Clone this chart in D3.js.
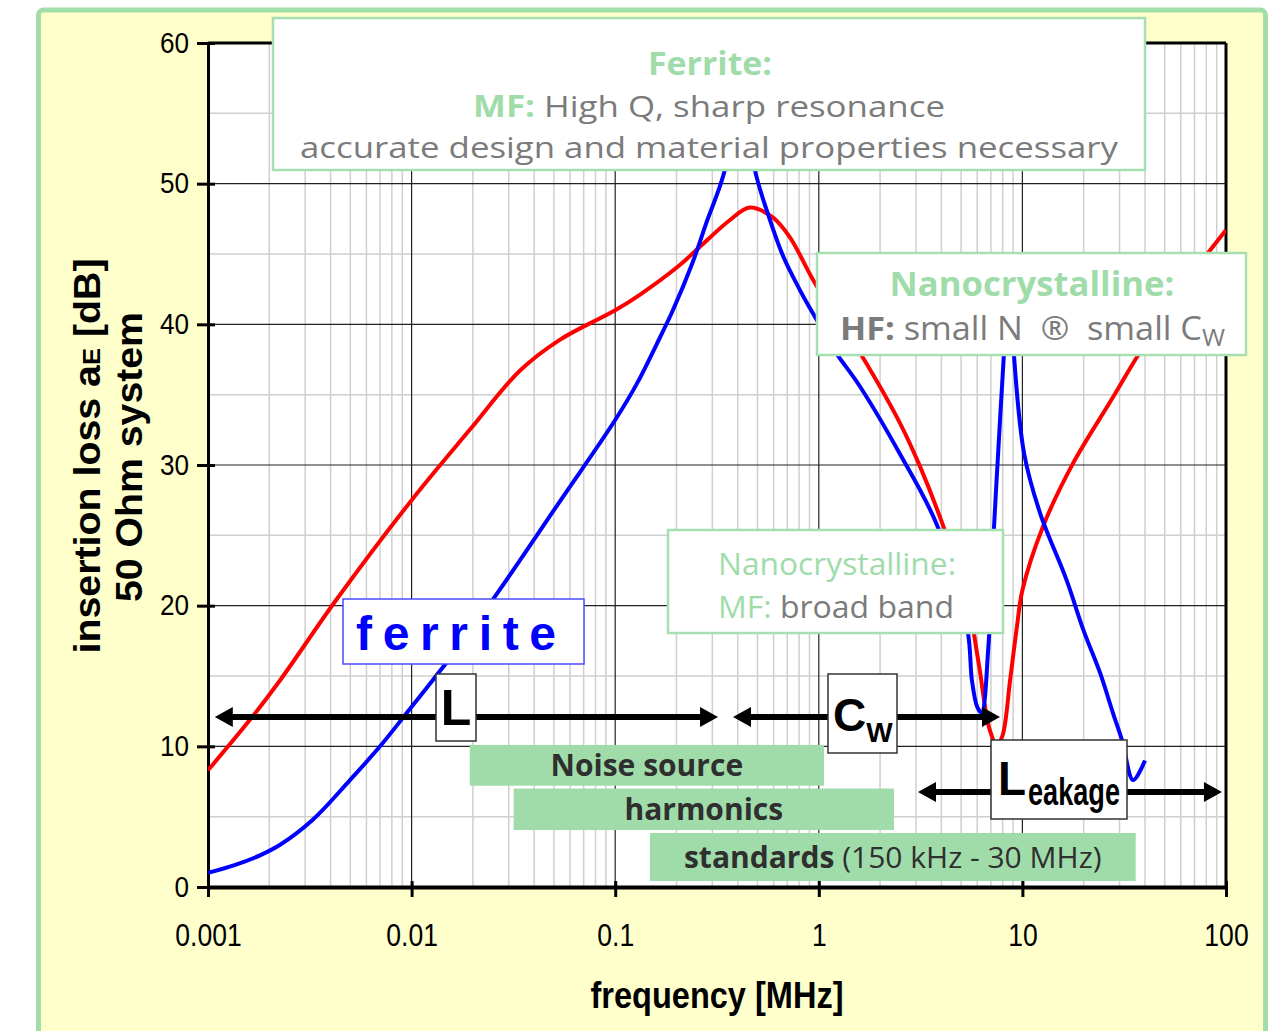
<!DOCTYPE html>
<html><head><meta charset="utf-8">
<script src="https://cdn.jsdelivr.net/npm/d3@7"></script>
<style>html,body{margin:0;padding:0;background:#fff;} svg{display:block;}</style>
</head><body>
<svg id="chart" width="1281" height="1031"></svg>
<script>
// ---------------- data ----------------
const frequencyTicks = [0.001, 0.01, 0.1, 1, 10, 100];
const frequencyTickLabels = ["0.001", "0.01", "0.1", "1", "10", "100"];
const lossTicks = [0, 10, 20, 30, 40, 50, 60];

// ferrite (blue) insertion loss [dB] vs frequency [MHz]
const ferriteFreq = [0.001, 0.00135, 0.0018, 0.00226, 0.00328, 0.00498, 0.007, 0.0095, 0.0127, 0.0173, 0.027, 0.0534, 0.1, 0.128, 0.16, 0.192, 0.24, 0.28, 0.346, 0.41, 0.485, 0.57, 0.67, 0.81, 0.96, 1.2, 1.59, 2.5, 3.84, 5.37, 5.65, 6.0, 6.3, 6.8, 7.2, 7.8, 8.1, 8.6, 9.1, 10.2, 12.2, 16.5, 19.9, 24.1, 27.8, 30.9, 35, 40];
const ferriteLoss = [1.0, 1.55, 2.25, 3.0, 4.8, 7.6, 10.0, 12.4, 14.7, 17.2, 21.1, 27.4, 33.2, 35.8, 38.6, 41.0, 44.4, 47.2, 51.0, 58, 51.0, 47.6, 44.8, 42.4, 40.5, 38.1, 35.6, 30.8, 25.6, 18.3, 14.7, 12.8, 12.4, 17, 24.7, 33.7, 37.7, 45, 37.7, 30.8, 26.6, 21.8, 18.3, 15.2, 12.4, 10.4, 7.6, 9.0];

// nanocrystalline (red)
const nanoFreq = [0.001, 0.00161, 0.00226, 0.00426, 0.01, 0.0193, 0.034, 0.0534, 0.1, 0.132, 0.207, 0.26, 0.365, 0.458, 0.594, 0.72, 0.96, 1.59, 2.5, 3.14, 4.1, 5.33, 6.1, 6.9, 7.5, 8.0, 8.7, 9.4, 10, 12.6, 17.7, 27.8, 36.6, 59.4, 100];
const nanoLoss = [8.3, 11.9, 14.7, 20.4, 27.5, 32.5, 36.7, 38.9, 41, 42.1, 44.2, 45.5, 47.4, 48.3, 47.6, 46.2, 42.9, 38, 33, 29.9, 25.6, 20.6, 15.9, 11.2, 10.1, 10.8, 14.7, 18.5, 21.1, 25.6, 30.1, 34.8, 37.7, 42.4, 46.7];

// frequency bands (green bars)
const bandNames = ["Noise source", "harmonics", "standards"];
const bandSuffix = ["", "", " (150 kHz - 30 MHz)"];
const bandFrom = [0.0193, 0.0317, 0.148];
const bandTo = [1.06, 2.34, 36];
const bandTop = [10.1, 7.0, 3.84];
const bandBottom = [7.2, 4.05, 0.43];

// double arrows (L, Cw, Lleakage)
const arrowFrom = [0.00108, 0.379, 3.07];
const arrowTo = [0.32, 7.76, 95.5];
const arrowLoss = [12.08, 12.08, 6.75];

// ---------------- layout ----------------
const svg = d3.select("#chart");
const X0 = 208, X1 = 1226, Y0 = 887, Y1 = 43;
const x = d3.scaleLog().domain([0.001, 100]).range([X0, X1]);
const y = d3.scaleLinear().domain([0, 60]).range([Y0, Y1]);

const GREEN = "#a0dcaa", BOXGREEN = "#a6e0b1", GRAY = "#7b7b7b";
const AX = "Liberation Sans, Arial, sans-serif";
const AN = "Open Sans, Noto Sans, sans-serif";

// outer frame
svg.append("rect").attr("x", 38.5).attr("y", 10).attr("width", 1227).attr("height", 1100)
  .attr("rx", 5).attr("fill", "#ffffcc").attr("stroke", "#a2dea9").attr("stroke-width", 5);

// plot background
svg.append("rect").attr("x", X0).attr("y", Y1).attr("width", X1 - X0).attr("height", Y0 - Y1).attr("fill", "#fff");

// grid
const minorF = [];
for (let d = 0.001; d < 100; d *= 10) for (let k = 2; k <= 9; k++) minorF.push(d * k);
const grid = svg.append("g");
grid.selectAll(".vmin").data(minorF).join("line")
  .attr("x1", d => x(d)).attr("x2", d => x(d)).attr("y1", Y1).attr("y2", Y0)
  .attr("stroke", "#cfcfcf").attr("stroke-width", 1.5);
grid.selectAll(".hmin").data(d3.range(5, 60, 10)).join("line")
  .attr("x1", X0).attr("x2", X1).attr("y1", d => y(d)).attr("y2", d => y(d))
  .attr("stroke", "#cfcfcf").attr("stroke-width", 1.5);
grid.selectAll(".vmaj").data(frequencyTicks.slice(1, -1)).join("line")
  .attr("x1", d => x(d)).attr("x2", d => x(d)).attr("y1", Y1).attr("y2", Y0)
  .attr("stroke", "#222").attr("stroke-width", 1.2);
grid.selectAll(".hmaj").data(lossTicks.slice(1, -1)).join("line")
  .attr("x1", X0).attr("x2", X1).attr("y1", d => y(d)).attr("y2", d => y(d))
  .attr("stroke", "#222").attr("stroke-width", 1.2);

// frame lines of plot
svg.append("line").attr("x1", X0).attr("x2", X1).attr("y1", Y1).attr("y2", Y1).attr("stroke", "#000").attr("stroke-width", 3);
svg.append("line").attr("x1", X1).attr("x2", X1).attr("y1", Y1).attr("y2", Y0).attr("stroke", "#000").attr("stroke-width", 3);

// axes
const yAxis = svg.append("g").attr("transform", `translate(${X0},0)`)
  .call(d3.axisLeft(y).tickValues(lossTicks).tickFormat(d3.format("d")).tickSize(11).tickPadding(8).tickSizeOuter(0));
yAxis.select(".domain").attr("stroke-width", 3);
yAxis.selectAll(".tick line").attr("x1", 7).attr("stroke-width", 3);
yAxis.selectAll(".tick text").attr("font-family", AX).attr("font-size", 29).attr("fill", "#000")
  .attr("transform", "scale(0.9,1)").attr("x", -21);

const xAxis = svg.append("g").attr("transform", `translate(0,${Y0})`)
  .call(d3.axisBottom(x).tickValues(frequencyTicks).tickFormat((d, i) => frequencyTickLabels[i]).tickSize(10).tickPadding(26).tickSizeOuter(0));
xAxis.select(".domain").attr("stroke-width", 4);
xAxis.selectAll(".tick line").attr("y1", -6).attr("stroke-width", 3);
xAxis.selectAll(".tick text").attr("font-family", AX).attr("font-size", 32).attr("fill", "#000")
  .attr("transform", "scale(0.83,1)");

// axis titles
svg.append("text").attr("x", 717).attr("y", 1008).attr("text-anchor", "middle")
  .attr("font-family", AX).attr("font-weight", "bold").attr("font-size", 36)
  .attr("textLength", 253).attr("lengthAdjust", "spacingAndGlyphs").text("frequency [MHz]");

const yt1 = svg.append("text").attr("transform", "translate(100,456) rotate(-90)").attr("text-anchor", "middle")
  .attr("font-family", AX).attr("font-weight", "bold").attr("font-size", 37)
  .attr("textLength", 395).attr("lengthAdjust", "spacingAndGlyphs");
yt1.append("tspan").text("insertion loss a");
yt1.append("tspan").attr("font-size", 24).text("E");
yt1.append("tspan").text(" [dB]");
svg.append("text").attr("transform", "translate(142,457) rotate(-90)").attr("text-anchor", "middle")
  .attr("font-family", AX).attr("font-weight", "bold").attr("font-size", 37)
  .attr("textLength", 290).attr("lengthAdjust", "spacingAndGlyphs").text("50 Ohm system");

// curves
svg.append("clipPath").attr("id", "plotclip").append("rect")
  .attr("x", X0).attr("y", Y1).attr("width", X1 - X0).attr("height", Y0 - Y1);
const line = d3.line().x(d => x(d[0])).y(d => y(d[1])).curve(d3.curveCatmullRom.alpha(0.5));
const curves = svg.append("g").attr("clip-path", "url(#plotclip)");
curves.append("path").attr("d", line(d3.zip(nanoFreq, nanoLoss)))
  .attr("fill", "none").attr("stroke", "#ff0000").attr("stroke-width", 4).attr("stroke-linejoin", "round");
curves.append("path").attr("d", line(d3.zip(ferriteFreq, ferriteLoss)))
  .attr("fill", "none").attr("stroke", "#0000ff").attr("stroke-width", 4).attr("stroke-linejoin", "round");

// green bands
bandNames.forEach((name, i) => {
  const bx = x(bandFrom[i]), bw = x(bandTo[i]) - x(bandFrom[i]);
  const by = y(bandTop[i]), bh = y(bandBottom[i]) - y(bandTop[i]);
  svg.append("rect").attr("x", bx).attr("y", by).attr("width", bw).attr("height", bh).attr("fill", GREEN);
  const t = svg.append("text").attr("x", bx + bw / 2).attr("y", by + bh / 2 + 11).attr("text-anchor", "middle")
    .attr("font-family", AN).attr("font-size", 30).attr("fill", "#2f2f2f");
  t.append("tspan").attr("font-weight", "bold").text(name);
  if (bandSuffix[i]) t.append("tspan").text(bandSuffix[i]);
});

// arrows
function doubleArrow(x1, x2, yy) {
  const g = svg.append("g");
  const hl = 18, hw = 10;
  g.append("line").attr("x1", x1 + hl - 2).attr("x2", x2 - hl + 2).attr("y1", yy).attr("y2", yy)
    .attr("stroke", "#000").attr("stroke-width", 6);
  g.append("path").attr("d", `M${x1},${yy} L${x1 + hl},${yy - hw} L${x1 + hl},${yy + hw} Z`).attr("fill", "#000");
  g.append("path").attr("d", `M${x2},${yy} L${x2 - hl},${yy - hw} L${x2 - hl},${yy + hw} Z`).attr("fill", "#000");
}
arrowFrom.forEach((f, i) => doubleArrow(x(f), x(arrowTo[i]), y(arrowLoss[i])));

// label boxes for arrows
function box(bx, by, bw, bh, stroke, sw) {
  return svg.append("rect").attr("x", bx).attr("y", by).attr("width", bw).attr("height", bh)
    .attr("fill", "#fff").attr("stroke", stroke).attr("stroke-width", sw);
}
box(436, 674, 40, 67, "#333", 1.5);
svg.append("text").attr("x", 456).attr("y", 725).attr("text-anchor", "middle")
  .attr("font-family", AX).attr("font-weight", "bold").attr("font-size", 50).text("L");

box(828, 674, 69, 79, "#333", 1.5);
const cw = svg.append("text").attr("x", 833).attr("y", 731).attr("font-family", AX).attr("font-weight", "bold");
cw.append("tspan").attr("font-size", 46).text("C");
cw.append("tspan").attr("font-size", 28).attr("dy", 11).text("W");

box(991, 740, 136, 79, "#333", 1.5);
svg.append("text").attr("x", 998).attr("y", 795).attr("font-family", AX).attr("font-weight", "bold")
  .attr("font-size", 49).attr("textLength", 28).attr("lengthAdjust", "spacingAndGlyphs").text("L");
svg.append("text").attr("x", 1028).attr("y", 805).attr("font-family", AX).attr("font-weight", "bold")
  .attr("font-size", 38).attr("textLength", 92).attr("lengthAdjust", "spacingAndGlyphs").text("eakage");

// ferrite label
box(343, 599, 241, 65, "#4a4aff", 1.5);
svg.append("text").attr("x", 356).attr("y", 650).attr("font-family", AX).attr("font-weight", "bold")
  .attr("font-size", 48).attr("fill", "#0000ff").attr("textLength", 200).attr("lengthAdjust", "spacing").text("ferrite");

// annotation: Ferrite (top)
box(273, 18, 872, 152, BOXGREEN, 2.5);
svg.append("text").attr("x", 710).attr("y", 75).attr("text-anchor", "middle").attr("font-family", AN)
  .attr("font-weight", "bold").attr("font-size", 32).attr("fill", GREEN)
  .attr("textLength", 124).attr("lengthAdjust", "spacingAndGlyphs").text("Ferrite:");
const fl2 = svg.append("text").attr("x", 709).attr("y", 117).attr("text-anchor", "middle").attr("font-family", AN)
  .attr("font-size", 30).attr("fill", GRAY).attr("textLength", 472).attr("lengthAdjust", "spacingAndGlyphs");
fl2.append("tspan").attr("font-weight", "bold").attr("fill", GREEN).text("MF:");
fl2.append("tspan").text(" High Q, sharp resonance");
svg.append("text").attr("x", 709).attr("y", 158).attr("text-anchor", "middle").attr("font-family", AN)
  .attr("font-size", 30).attr("fill", GRAY).attr("textLength", 818).attr("lengthAdjust", "spacingAndGlyphs")
  .text("accurate design and material properties necessary");

// annotation: Nanocrystalline HF
box(817, 253, 429, 102, BOXGREEN, 2.5);
svg.append("text").attr("x", 1032).attr("y", 296).attr("text-anchor", "middle").attr("font-family", AN)
  .attr("font-weight", "bold").attr("font-size", 34).attr("fill", GREEN)
  .attr("textLength", 285).attr("lengthAdjust", "spacingAndGlyphs").text("Nanocrystalline:");
const hf = svg.append("text").attr("x", 840).attr("y", 340).attr("font-family", AN)
  .attr("font-size", 33).attr("fill", GRAY).attr("textLength", 385).attr("lengthAdjust", "spacingAndGlyphs");
hf.append("tspan").attr("font-weight", "bold").text("HF:");
hf.append("tspan").text(" small N \u00A0\u00AE\u00A0 small C");
hf.append("tspan").attr("font-size", 24).attr("dy", 6).text("W");

// annotation: Nanocrystalline MF
box(668, 530, 335, 103, BOXGREEN, 2.5);
svg.append("text").attr("x", 718).attr("y", 575).attr("font-family", AN)
  .attr("font-size", 31).attr("fill", GREEN)
  .attr("textLength", 238).attr("lengthAdjust", "spacingAndGlyphs").text("Nanocrystalline:");
const mf = svg.append("text").attr("x", 718).attr("y", 618).attr("font-family", AN)
  .attr("font-size", 31).attr("fill", GRAY).attr("textLength", 236).attr("lengthAdjust", "spacingAndGlyphs");
mf.append("tspan").attr("fill", GREEN).text("MF:");
mf.append("tspan").text(" broad band");
</script>
</body></html>
